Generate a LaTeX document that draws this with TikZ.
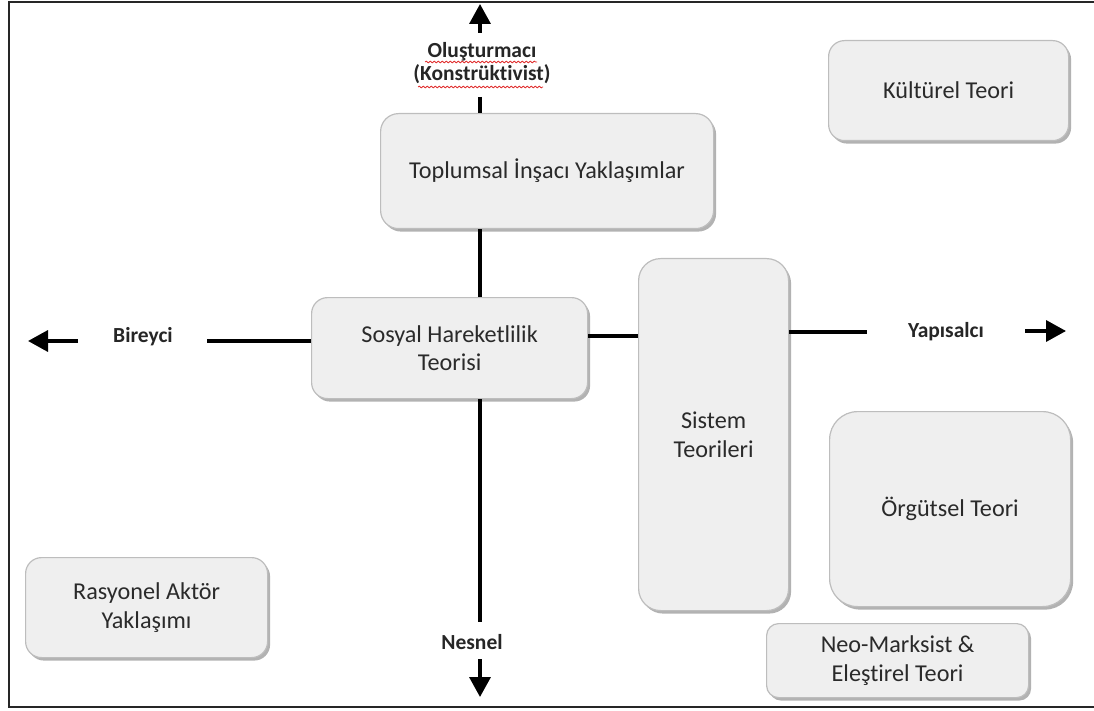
\documentclass[tikz,border=0pt]{standalone}
\usepackage{fontspec}
\setmainfont{Carlito}[Ligatures=NoCommon]
\usetikzlibrary{arrows.meta,shadows,decorations.pathmorphing}

\definecolor{boxfill}{HTML}{EFEFEF}
\definecolor{boxline}{HTML}{BDBDBD}
\definecolor{boxtext}{HTML}{2A2A2A}
\definecolor{spell}{HTML}{E03030}

\begin{document}
\begin{tikzpicture}[x=1pt,y=-1pt,
  card/.style={draw=boxline, line width=1.2pt, fill=boxfill, rounded corners=#1,
    drop shadow={shadow xshift=2.5pt, shadow yshift=-3pt, fill=black!55, opacity=0.55},
    anchor=north west, inner sep=0pt, align=center,
    font=\fontsize{24.2}{28.5}\selectfont, text=boxtext},
  card/.default=15pt,
  axis/.style={line width=3.5pt, black},
  axisarrow/.style={line width=3.5pt, black, -{Triangle[width=21pt,length=20pt]}},
  axlabel/.style={font=\bfseries\fontsize{21.5}{23}\selectfont, text=black!85,
    inner sep=0pt, align=center},
  squiggle/.style={spell, line width=0.8pt, decorate,
    decoration={snake, amplitude=0.9pt, segment length=4pt}},
]
\useasboundingbox (0,0) rectangle (1094,711);

% outer frame
\draw[line width=2pt, black!85] (1100,2.5) -- (9,2.5) -- (9,707) -- (1100,707);

% theory boxes
\node[card=18pt, minimum width=333pt, minimum height=115pt] (toplum) at (380,113) {Toplumsal İnşacı Yaklaşımlar};
\node[card=16pt, minimum width=240pt, minimum height=100pt] (kultur) at (828,40) {Kültürel Teori};
\node[card=16pt, minimum width=276pt, minimum height=101pt] (sosyal) at (311,297) {Sosyal Hareketlilik\\Teorisi};
\node[card=22pt, minimum width=150pt, minimum height=352pt] (sistem) at (638,258) {Sistem\\Teorileri};
\node[card=28pt, minimum width=241pt, minimum height=195pt] (orgut) at (829,411) {Örgütsel Teori};
\node[card=16pt, minimum width=242pt, minimum height=100pt] (rasyonel) at (25,557) {Rasyonel Aktör\\Yaklaşımı};
\node[card=12pt, minimum width=262pt, minimum height=74pt] (neo) at (766,623) {Neo-Marksist \&\\Eleştirel Teori};

% axis labels
\node[axlabel] (olus) at (482,63) {Oluşturmacı\\(Konstrüktivist)};
\node[axlabel] (birey) at (143,337) {Bireyci};
\node[axlabel] (yapi) at (946,332) {Yapısalcı};
\node[axlabel] (nesnel) at (472,642) {Nesnel};

% spell-check marks under the top label
\draw[squiggle] (425,62) -- (537,62);
\draw[squiggle] (418,87) -- (543,87);

% vertical axis
\coordinate (upTip) at (480,4);
\coordinate (upStart) at (480,33);
\coordinate (olusBelow) at (480,97);
\coordinate (nesAbove) at (480,622);
\coordinate (downStart) at (480,659);
\coordinate (downTip) at (480,697);
\draw[axisarrow] (upStart) -- (upTip);
\draw[axis] (olusBelow) -- (olusBelow |- toplum.north);
\draw[axis] (olusBelow |- toplum.south) -- (olusBelow |- sosyal.north);
\draw[axis] (olusBelow |- sosyal.south) -- (nesAbove);
\draw[axisarrow] (downStart) -- (downTip);

% horizontal axis
\coordinate (leftStart) at (78,341);
\coordinate (leftTip) at (28,341);
\coordinate (bireyRight) at (207,341);
\coordinate (midLevel) at (600,336);
\coordinate (yapiLeft) at (867,332);
\coordinate (rightStart) at (1025,331);
\coordinate (rightTip) at (1066,331);
\draw[axisarrow] (leftStart) -- (leftTip);
\draw[axis] (bireyRight) -- (bireyRight -| sosyal.west);
\draw[axis] (midLevel -| sosyal.east) -- (midLevel -| sistem.west);
\draw[axis] (yapiLeft -| sistem.east) -- (yapiLeft);
\draw[axisarrow] (rightStart) -- (rightTip);
\end{tikzpicture}
\end{document}
